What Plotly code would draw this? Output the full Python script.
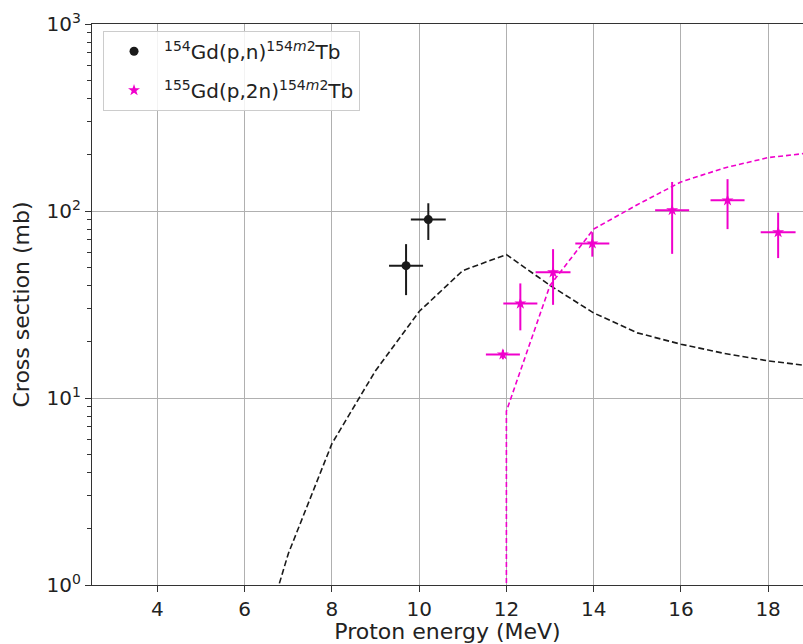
import plotly.graph_objects as go

# Measured cross sections, 154Gd(p,n)154m2Tb
e_pn = [9.70, 10.21]
e_pn_err = [0.39, 0.40]
xs_pn = [51, 90]
xs_pn_err = [15.5, 20]

# Measured cross sections, 155Gd(p,2n)154m2Tb
e_p2n = [11.92, 12.32, 13.07, 13.97, 15.80, 17.07, 18.23]
e_p2n_err = [0.39, 0.39, 0.40, 0.39, 0.39, 0.39, 0.40]
xs_p2n = [17.1, 32, 47, 67, 101, 114, 77]
xs_p2n_err = [1.0, 9, 15.5, 10, 42, 34, 21]

# Model curves
model_e_pn = [6.5, 7, 8, 9, 10, 11, 12, 13, 14, 15, 16, 17, 18, 19]
model_xs_pn = [0.6, 1.47, 5.7, 14, 29, 48, 58.5, 40, 28.5, 22.3, 19.4, 17.3, 15.8, 14.8]
model_e_p2n = [12, 12, 13, 14, 15, 16, 17, 18, 19]
model_xs_p2n = [0.01, 8.5, 40, 80, 108, 143, 170, 193, 205]

x_ticks = [4, 6, 8, 10, 12, 14, 16, 18]
y_ticks = [1, 10, 100, 1000]
y_ticktext = ["10<sup>0</sup>", "10<sup>1</sup>", "10<sup>2</sup>", "10<sup>3</sup>"]
y_minor = [m * d for d in (1, 10, 100) for m in range(2, 10)]

BLACK = "#1a1a1a"
MAGENTA = "#f000cc"

fig = go.Figure()

fig.add_trace(go.Scatter(
    x=model_e_pn, y=model_xs_pn, mode="lines",
    line=dict(color=BLACK, width=1.6, dash="6px,3px"),
    showlegend=False, hoverinfo="skip",
))
fig.add_trace(go.Scatter(
    x=model_e_p2n, y=model_xs_p2n, mode="lines",
    line=dict(color=MAGENTA, width=1.6, dash="5px,3px"),
    showlegend=False, hoverinfo="skip",
))

fig.add_trace(go.Scatter(
    x=e_pn, y=xs_pn, mode="markers",
    name="<sup>154</sup>Gd(p,n)<sup>154<i>m</i>2</sup>Tb",
    legendgroup="pn",
    marker=dict(symbol="circle", size=9, color=BLACK),
    error_x=dict(type="data", array=e_pn_err, color=BLACK, thickness=2, width=0),
    error_y=dict(type="data", array=xs_pn_err, color=BLACK, thickness=2, width=0),
))
fig.add_trace(go.Scatter(
    x=e_p2n, y=xs_p2n, mode="markers",
    name="<sup>155</sup>Gd(p,2n)<sup>154<i>m</i>2</sup>Tb",
    legendgroup="p2n",
    marker=dict(symbol="star", size=9, color=MAGENTA),
    error_x=dict(type="data", array=e_p2n_err, color=MAGENTA, thickness=2, width=0),
    error_y=dict(type="data", array=xs_p2n_err, color=MAGENTA, thickness=2, width=0),
))

axis_font = dict(family="DejaVu Sans", size=20, color="#222")
title_font = dict(family="DejaVu Sans", size=22, color="#222")

fig.update_layout(
    width=803, height=644,
    margin=dict(l=92, r=0, t=24, b=59),
    paper_bgcolor="white", plot_bgcolor="white",
    font=dict(family="DejaVu Sans", color="#222"),
    showlegend=True,
    legend=dict(
        x=0.0155, y=0.988, xanchor="left", yanchor="top",
        bgcolor="rgba(255,255,255,0.85)", bordercolor="#cccccc", borderwidth=1,
        font=dict(family="DejaVu Sans", size=20, color="#222"),
        tracegroupgap=10, itemwidth=50,
    ),
    xaxis=dict(
        range=[2.5, 18.8],
        tickvals=x_ticks,
        tickfont=axis_font,
        title=dict(text="Proton energy (MeV)", font=title_font, standoff=7),
        showgrid=True, gridcolor="#b0b0b0", gridwidth=1,
        zeroline=False,
        showline=True, linecolor="#333", linewidth=1.2, mirror=True,
        ticks="outside", ticklen=6, tickcolor="#333", tickwidth=1,
    ),
    yaxis=dict(
        type="log",
        range=[0, 3],
        tickvals=y_ticks, ticktext=y_ticktext,
        tickfont=axis_font,
        title=dict(text="Cross section (mb)", font=title_font, standoff=10),
        showgrid=True, gridcolor="#b0b0b0", gridwidth=1,
        zeroline=False,
        showline=True, linecolor="#333", linewidth=1.2,
        ticks="outside", ticklen=6, tickcolor="#333", tickwidth=1,
        minor=dict(tickvals=y_minor, ticks="outside", ticklen=3.5, tickcolor="#333", showgrid=False),
    ),
)

fig.write_html("out.html")
